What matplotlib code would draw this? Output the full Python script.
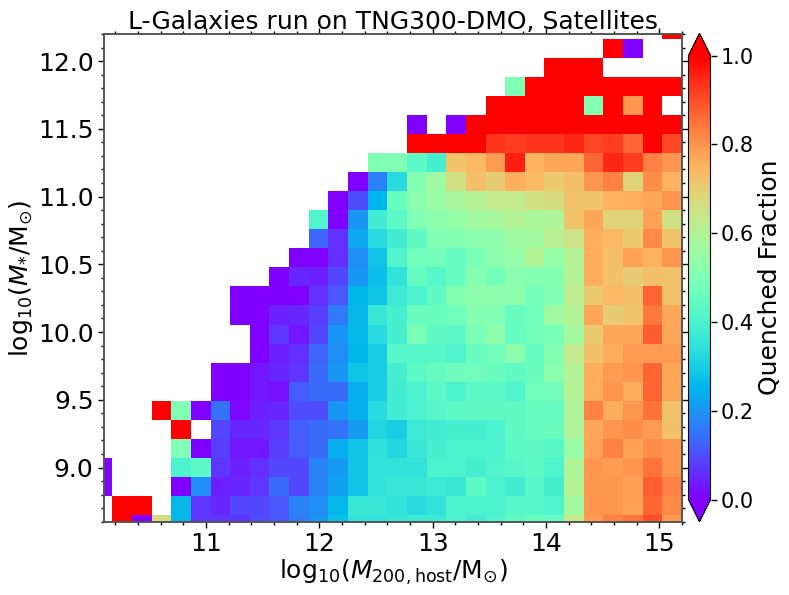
import matplotlib
matplotlib.use('Agg')
import matplotlib.pyplot as plt
from matplotlib.ticker import MultipleLocator
import numpy as np

n = np.nan

# halo mass / stellar mass bin edges
mhalo_edges = np.linspace(10.0, 15.2, 31)
mstar_edges = 8.51 + 0.1405 * np.arange(28)

# quenched fraction per bin, first row = lowest stellar mass, 30 halo mass bins per row
r00 = [n, 1, 0, .67, .26, .07, .07, .07, .10, .11, .16, .20, .27, .35, .35, .36, .37, .37, .40, .38, .41, .44, .45, .45, .63, .79, .83, .85, .90, .79]
r01 = [n, 1, 1, n, .26, .07, .05, .09, .09, .11, .17, .19, .26, .36, .36, .35, .33, .35, .40, .40, .40, .42, .42, .41, .57, .80, .80, .78, .87, .82]
r02 = [0, n, n, n, 0, .19, .04, .05, .07, .14, .09, .17, .22, .28, .35, .36, .36, .37, .36, .43, .40, .38, .42, .39, .60, .80, .80, .78, .88, .83]
r03 = [0, n, n, n, .40, .43, .07, .04, .06, .09, .09, .17, .21, .28, .35, .35, .35, .40, .40, .39, .41, .42, .43, .41, .59, .80, .79, .80, .85, .80]
r04 = [n, n, n, n, .50, 0, .08, .03, .03, .08, .12, .14, .24, .28, .34, .32, .36, .39, .40, .40, .40, .43, .44, .42, .55, .78, .83, .78, .81, .80]
r05 = [n, n, n, n, 1, n, .09, .05, .05, .07, .12, .14, .15, .21, .32, .30, .37, .38, .39, .39, .40, .44, .45, .46, .59, .77, .80, .81, .79, .73]
r06 = [n, n, n, 1, .50, 0, .15, .01, .04, .05, .10, .10, .20, .24, .33, .38, .40, .42, .43, .44, .44, .44, .45, .45, .59, .83, .76, .80, .85, .72]
r07 = [n, n, n, n, n, n, 0, 0, .03, .02, .12, .14, .14, .24, .30, .38, .40, .43, .40, .43, .43, .41, .47, .48, .60, .76, .80, .76, .87, .77]
r08 = [n, n, n, n, n, n, 0, 0, .03, .05, .07, .14, .20, .28, .30, .39, .43, .45, .47, .47, .46, .44, .46, .52, .60, .76, .79, .80, .87, .77]
r09 = [n, n, n, n, n, n, n, n, 0, .04, .06, .13, .19, .25, .30, .42, .42, .42, .41, .46, .47, .52, .45, .51, .63, .73, .76, .79, .79, .79]
r10 = [n, n, n, n, n, n, n, n, 0, .07, .03, .09, .20, .26, .33, .39, .49, .44, .43, .49, .53, .45, .48, .49, .57, .71, .77, .77, .88, .77]
r11 = [n, n, n, n, n, n, n, 0, 0, .04, .05, .08, .16, .26, .36, .39, .46, .46, .47, .51, .50, .46, .47, .56, .60, .77, .70, .72, .84, .77]
r12 = [n, n, n, n, n, n, n, 0, 0, 0, 0, .06, .11, .25, .28, .37, .40, .44, .51, .53, .53, .53, .48, .50, .62, .71, .74, .73, .87, .72]
r13 = [n, n, n, n, n, n, n, n, n, 0, .05, .04, .09, .20, .27, .35, .45, .42, .45, .51, .48, .52, .51, .51, .60, .76, .73, .70, .73, .72]
r14 = [n, n, n, n, n, n, n, n, n, n, 0, 0, .06, .19, .28, .41, .47, .48, .45, .49, .52, .54, .60, .54, .60, .76, .73, .78, .75, .80]
r15 = [n, n, n, n, n, n, n, n, n, n, n, .13, .06, .23, .33, .38, .44, .50, .51, .52, .53, .56, .57, .61, .65, .76, .74, .71, .82, .72]
r16 = [n, n, n, n, n, n, n, n, n, n, n, .41, 0, .20, .38, .43, .50, .52, .54, .57, .58, .60, .58, .59, .72, .77, .69, .69, .78, .66]
r17 = [n, n, n, n, n, n, n, n, n, n, n, n, 0, .10, .25, .46, .52, .55, .58, .60, .63, .63, .66, .67, .72, .72, .75, .76, .77, .80]
r18 = [n, n, n, n, n, n, n, n, n, n, n, n, n, 0, .17, .33, .51, .56, .66, .73, .70, .76, .74, .71, .73, .80, .83, .69, .81, .75]
r19 = [n, n, n, n, n, n, n, n, n, n, n, n, n, n, .50, .50, .43, .39, .72, .74, .79, .96, .75, .77, .77, .87, .95, .92, .83, .80]
r20 = [n, n, n, n, n, n, n, n, n, n, n, n, n, n, n, n, 1, 1, 1, 1, .93, .92, .93, .93, .95, .91, .92, .87, 1, .91]
r21 = [n, n, n, n, n, n, n, n, n, n, n, n, n, n, n, n, 0, n, 0, 1, 1, 1, 1, 1, 1, 1, 1, 1, 1, 1]
r22 = [n, n, n, n, n, n, n, n, n, n, n, n, n, n, n, n, n, n, n, n, 1, 1, 1, 1, 1, .50, 1, .80, 1, n]
r23 = [n, n, n, n, n, n, n, n, n, n, n, n, n, n, n, n, n, n, n, n, n, .50, 1, 1, 1, 1, 1, 1, 1, 1]
r24 = [n, n, n, n, n, n, n, n, n, n, n, n, n, n, n, n, n, n, n, n, n, n, n, 1, 1, 1, n, n, n, n]
r25 = [n, n, n, n, n, n, n, n, n, n, n, n, n, n, n, n, n, n, n, n, n, n, n, n, n, n, 1, 0, n, n]
r26 = [n, n, n, n, n, n, n, n, n, n, n, n, n, n, n, n, n, n, n, n, n, n, n, n, n, n, n, n, n, 1]

quenched = np.array([r00, r01, r02, r03, r04, r05, r06, r07, r08, r09, r10, r11, r12, r13,
                     r14, r15, r16, r17, r18, r19, r20, r21, r22, r23, r24, r25, r26])

W, H = 789, 595
fig = plt.figure(figsize=(W / 100, H / 100), dpi=100)
ax = fig.add_axes([104 / W, 1 - 521.7 / H, 578 / W, 487.7 / H])

mesh = ax.pcolormesh(mhalo_edges, mstar_edges, np.ma.masked_invalid(quenched),
                     cmap='rainbow', vmin=0, vmax=1)
ax.set_xlim(10.1, 15.2)
ax.set_ylim(8.6, 12.2)

ax.xaxis.set_major_locator(MultipleLocator(1))
ax.xaxis.set_minor_locator(MultipleLocator(0.2))
ax.yaxis.set_major_locator(MultipleLocator(0.5))
ax.yaxis.set_minor_locator(MultipleLocator(0.1))
ax.tick_params(which='both', top=True, right=True, direction='out', labelsize=18)
ax.tick_params(which='major', length=4.5, width=1, pad=3)
ax.tick_params(which='minor', length=2.5, width=1)
for s in ax.spines.values():
    s.set_linewidth(1.4)
    s.set_color('#555555')

ax.set_title('L-Galaxies run on TNG300-DMO, Satellites', fontsize=18, pad=3)
ax.set_xlabel(r'$\mathrm{log}_{10}(M_{200,\rm host}/\rm M_{\odot})$', fontsize=18, labelpad=1)
ax.set_ylabel(r'$\mathrm{log}_{10}(M_{*}/\rm M_{\odot})$', fontsize=18, labelpad=2)

cax = fig.add_axes([688.5 / W, 1 - 521.7 / H, 22 / W, 488.4 / H])
cb = fig.colorbar(mesh, cax=cax, extend='both')
cb.set_ticks([0, 0.2, 0.4, 0.6, 0.8, 1.0])
cb.ax.tick_params(labelsize=15, length=4, width=1, pad=3)
cb.set_label('Quenched Fraction', fontsize=18, labelpad=3)

fig.savefig('out.png', dpi=100)
